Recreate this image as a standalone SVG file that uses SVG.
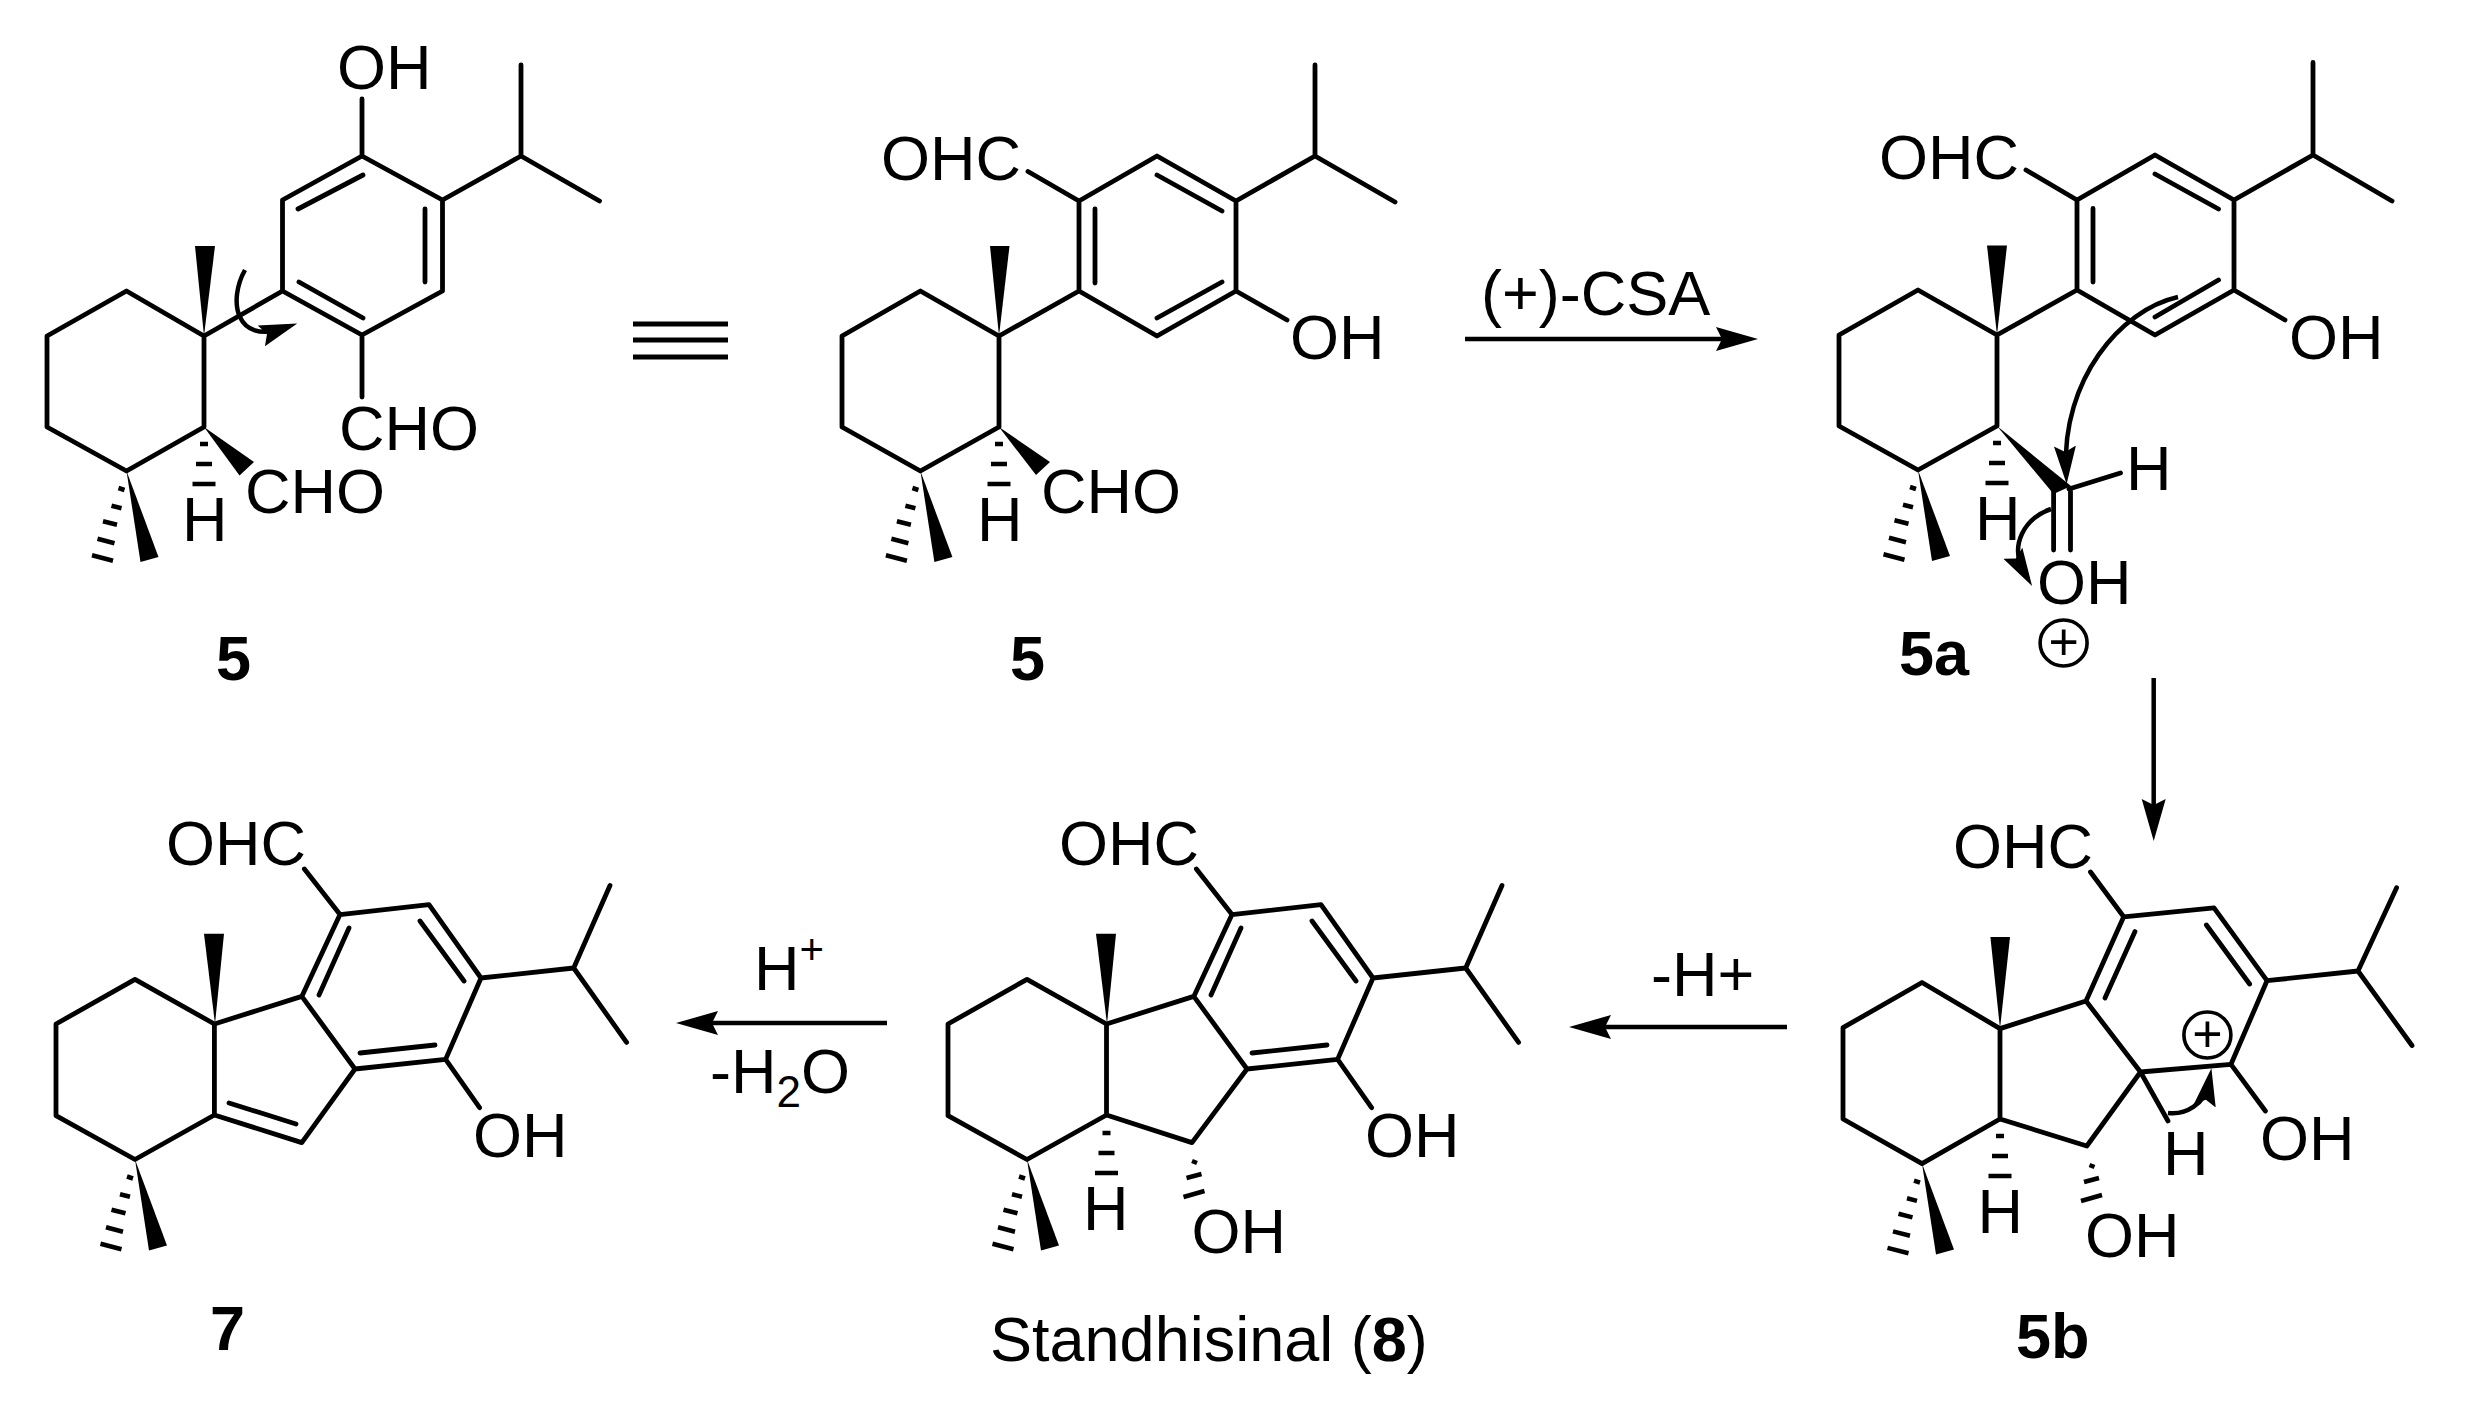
<svg xmlns="http://www.w3.org/2000/svg" xmlns:xlink="http://www.w3.org/1999/xlink" width="2466" height="1401" viewBox="0 0 2466 1401">
<style>
.b{fill:none;stroke:#000;stroke-width:4.800;stroke-linecap:round;stroke-linejoin:round}
.w{fill:#000;stroke:none}
.h{fill:none;stroke:#000;stroke-width:4.500}
.ar{fill:none;stroke:#000;stroke-width:4.500}
.t{font-family:"Liberation Sans",Arial,sans-serif;font-size:63px;fill:#000}
.n{font-family:"Liberation Sans",Arial,sans-serif;font-size:63px;font-weight:bold;fill:#000}
.c{fill:none;stroke:#000;stroke-width:3.600}
</style>
<defs>
<marker id="head" markerUnits="userSpaceOnUse" markerWidth="42" markerHeight="26" viewBox="0 0 42 26" refX="27" refY="13" orient="auto"><path d="M0 1L42 13L0 25L6 13Z" fill="#000"/></marker>
<marker id="headS" markerUnits="userSpaceOnUse" markerWidth="38" markerHeight="24" viewBox="0 0 38 24" refX="24" refY="12" orient="auto"><path d="M0 1L38 12L0 23L6 12Z" fill="#000"/></marker>
<g id="gem">
<polygon class="w" points="0,0 32,86 14,91"/>
<path class="h" d="M-8,17L-2,19M-15,34.700L-5,37.300M-23.500,50.200L-9.500,53.800M-29,67.800L-12,72.200M-34.500,84.300L-13.500,89.700"/>
</g>
<path id="hashH" class="h" d="M-4,0H4M-8,20H8M-11.500,40H11.500"/>
<path id="hashO" class="h" d="M-2,-1L3,1M-7.500,16L7.500,12M-10.500,35L10.500,29"/>
</defs>

<g id="connectors">
<path class="ar" d="M1465,339H1743" marker-end="url(#head)"/>
<path class="ar" d="M2153.700,678V826" marker-end="url(#head)"/>
<path class="ar" d="M1787,1027H1584" marker-end="url(#head)"/>
<path class="ar" d="M887,1023H691" marker-end="url(#head)"/>
<path class="ar" d="M245,270C228,300 235,345 284,328" marker-end="url(#headS)"/>
<path class="ar" d="M2178,297C2120,310 2062,380 2066,470" marker-end="url(#headS)"/>
<path class="ar" d="M2051,509C2025,518 2008,545 2025,574" marker-end="url(#headS)"/>
<path class="ar" d="M2168,1113C2185,1115 2205,1105 2209,1082" marker-end="url(#headS)"/>
</g>

<g id="node-5-left">
<path class="b" d="M204,336L126.500,291L47,336V427L126.500,471L204,427V336L282.500,291V200L362,156L442.500,200V291L362,335L282.500,291M362,156V99M442.500,200L521,156V65M521,156L599.500,201M362,335V397M298,209L363,175M425,209V282M299,282L363,318"/>
<polygon class="w" points="204,336 195,246 215,246"/>
<polygon class="w" points="204,427 254,462 239.500,475.500"/>
<use xlink:href="#hashH" href="#hashH" x="204" y="444"/>
<use xlink:href="#gem" href="#gem" x="126.500" y="471"/>
<text class="t" x="337" y="89">OH</text>
<text class="t" x="339" y="450">CHO</text>
<text class="t" x="245" y="513">CHO</text>
<text class="t" x="182" y="541">H</text>
<text class="n" x="216" y="680">5</text>
</g>

<g id="equiv">
<path d="M633,324H728M633,340H728M633,357H728" fill="none" stroke="#000" stroke-width="5"/>
</g>

<g id="node-5-right">
<path class="b" d="M999,336L920.400,291L842,336V427L920.400,471L999,427V336L1079,291V201L1157,156L1236,201V291L1157,336L1079,291M1079,201L1028,171.500M1236,291L1287,320M1236,201L1315,156V65M1315,156L1395,202M1095,209V283M1157,175L1222,211M1157,318L1222,282"/>
<polygon class="w" points="999,336 990,246 1009.500,246"/>
<polygon class="w" points="999,427 1050,462 1036,475"/>
<use xlink:href="#hashH" href="#hashH" x="999" y="444"/>
<use xlink:href="#gem" href="#gem" x="920.400" y="471"/>
<text class="t" x="881" y="179.500">OHC</text>
<text class="t" x="1290" y="359">OH</text>
<text class="t" x="1041" y="513">CHO</text>
<text class="t" x="977" y="541">H</text>
<text class="n" x="1010" y="680">5</text>
</g>

<text id="label-csa" class="t" x="1481" y="315">(+)-CSA</text>

<g id="node-5a">
<path class="b" d="M1997,335L1918,290L1839,335V426L1918,470L1997,426V335L2077,290V200L2155,155L2234,200V290L2155,335L2077,290M2077,200L2026,170M2234,290L2285,320M2234,200L2313,155V62.500M2313,155L2392,201M2093,208.500V282M2155,174L2218.500,209M2155,317L2218.500,280M2069,489L2120.500,473M2053.600,491V550M2070.500,489V550"/>
<polygon class="w" points="1997,426 2071,486 2053.600,494"/>
<polygon class="w" points="1997,335 1987,245.500 2007,245.500"/>
<use xlink:href="#hashH" href="#hashH" x="1997" y="443"/>
<use xlink:href="#gem" href="#gem" x="1918" y="470"/>
<text class="t" x="1879" y="178.600">OHC</text>
<text class="t" x="2289" y="358.500">OH</text>
<text class="t" x="2126" y="490">H</text>
<text class="t" x="1975" y="540">H</text>
<text class="t" x="2037" y="603.600">OH</text>
<text class="n" x="1899" y="675">5a</text>
<ellipse class="c" cx="2063.600" cy="643" rx="23.500" ry="23"/>
<text class="t" x="2063.600" y="660" text-anchor="middle" style="font-size:52px">+</text>
</g>

<g id="node-5b">
<path class="b" d="M2000,1028.600L1922,982.500L1843,1027.700V1119L1922,1163.600L2000,1119V1028.600L2086,1001L2140.500,1072L2086.800,1146L2000,1119M2086,1001L2123.700,916.800L2214,907.900L2267,980.700L2231,1064.300L2140.500,1072M2135,931.600L2105,998M2206.400,925L2249.600,984M2123.700,916.800L2090.500,872M2231,1064.300L2265.400,1111M2267,980.700L2358,971L2396.600,887.800M2358,971L2412,1045.500M2140.500,1072L2168,1121"/>
<polygon class="w" points="2000,1028.600 1990.400,937 2010,937"/>
<use xlink:href="#hashH" href="#hashH" x="2000" y="1136"/>
<use xlink:href="#gem" href="#gem" x="1922" y="1163.600"/>
<use xlink:href="#hashO" href="#hashO" x="2091.500" y="1166"/>
<ellipse class="c" cx="2207.400" cy="1035" rx="23.500" ry="23"/>
<text class="t" x="2207.400" y="1052" text-anchor="middle" style="font-size:52px">+</text>
<text class="t" x="1953" y="867.600">OHC</text>
<text class="t" x="2260" y="1160.400">OH</text>
<text class="t" x="2163" y="1175">H</text>
<text class="t" x="1977.500" y="1233">H</text>
<text class="t" x="2085" y="1257.400">OH</text>
<text class="n" x="2016" y="1358">5b</text>
</g>

<text id="label-minus-h" class="t" x="1651" y="996.400">-H+</text>

<g id="node-8">
<path class="b" d="M1106.500,1115V1024L1027,979.400L948,1024V1115.700L1027,1159.500L1106.500,1115L1192,1142.600L1247,1069L1193.800,996.400L1106.500,1024M1193.800,996.400L1232,914.600L1321,904.700L1373,978L1337.600,1059.400L1247,1069M1241,928L1211,995M1312,921L1356,981M1252,1053L1327,1045M1232,914.600L1196.400,869M1337.600,1059.400L1371.600,1107.700M1373,978L1465.700,968L1502,885.500M1465.700,968L1518.600,1042.400"/>
<polygon class="w" points="1107,1024 1096,933.800 1116,933.800"/>
<use xlink:href="#hashH" href="#hashH" x="1106.500" y="1133"/>
<use xlink:href="#gem" href="#gem" x="1027" y="1159.500"/>
<use xlink:href="#hashO" href="#hashO" x="1194" y="1162"/>
<text class="t" x="1059" y="864.500">OHC</text>
<text class="t" x="1365" y="1157">OH</text>
<text class="t" x="1083" y="1230">H</text>
<text class="t" x="1191.500" y="1253.400">OH</text>
<text class="t" x="990" y="1361">Standhisinal (<tspan class="n">8</tspan>)</text>
</g>

<text id="label-hplus" class="t" x="754" y="990">H<tspan style="font-size:42px" dy="-26">+</tspan></text>
<text id="label-water" class="t" x="710" y="1093">-H<tspan style="font-size:44px" dy="14">2</tspan><tspan dy="-14">O</tspan></text>

<g id="node-7">
<path class="b" d="M214.400,1115V1024L135,979.400L56,1024V1115.700L135,1159.500L214.400,1115L301.800,1142.600L355,1069L301.800,996.400L214.400,1024M301.800,996.400L340,914.600L429,904.700L481,978L445.600,1059.400L355,1069M349,928L319,995M420,921L464,981M360,1053L435,1045M229,1103L296,1124M340,914.600L304.400,869M445.600,1059.400L479.600,1107.700M481,978L573.700,968L610,885.500M573.700,968L626.600,1042.400"/>
<polygon class="w" points="215,1024 204,933.800 224,933.800"/>
<use xlink:href="#gem" href="#gem" x="135" y="1159.500"/>
<text class="t" x="166" y="864.500">OHC</text>
<text class="t" x="473" y="1157">OH</text>
<text class="n" x="210" y="1350">7</text>
</g>
</svg>
